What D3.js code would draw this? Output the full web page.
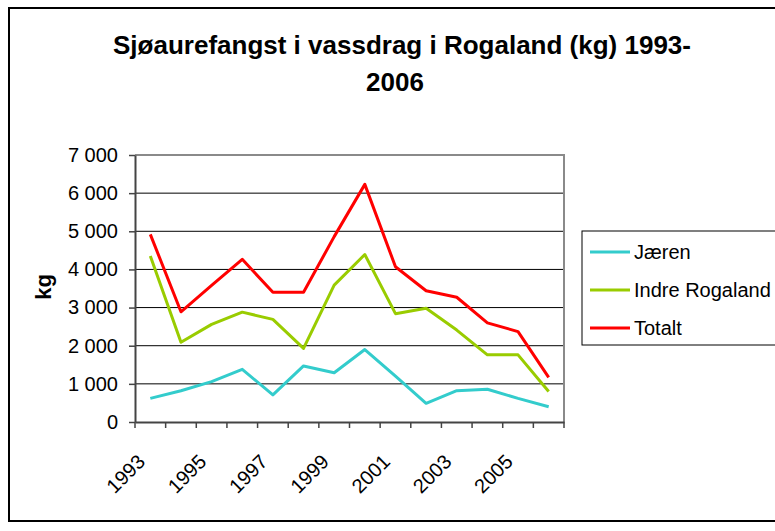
<!DOCTYPE html>
<html>
<head>
<meta charset="utf-8">
<script src="https://cdn.jsdelivr.net/npm/d3@7"></script>
<style>
  html, body { margin: 0; padding: 0; background: #fff; }
  svg { display: block; font-family: "Liberation Sans", Arial, sans-serif; }
</style>
</head>
<body>
<svg id="chart" width="775" height="531"></svg>
<script>
// ---- Data ----
const years = ["1993","1994","1995","1996","1997","1998","1999","2000","2001","2002","2003","2004","2005","2006"];
const jaeren = [620, 820, 1060, 1380, 710, 1470, 1290, 1900, 1200, 490, 820, 860, 620, 400];
const indreRogaland = [4350, 2090, 2560, 2880, 2690, 1930, 3590, 4390, 2840, 2980, 2410, 1760, 1760, 800];
const totalt = [4920, 2890, 3580, 4265, 3400, 3400, 4860, 6230, 4070, 3440, 3270, 2600, 2370, 1170];
const seriesNames = ["Jæren", "Indre Rogaland", "Totalt"];
const seriesColors = ["#33CCCC", "#99CC00", "#FF0000"];
const yTicks = [0, 1000, 2000, 3000, 4000, 5000, 6000, 7000];
const xLabels = ["1993", "1995", "1997", "1999", "2001", "2003", "2005"];
const titleLines = ["Sjøaurefangst i vassdrag i Rogaland (kg) 1993-", "2006"];
const yAxisTitle = "kg";

const seriesValues = [jaeren, indreRogaland, totalt];

// ---- Layout ----
const svg = d3.select("#chart");
const plot = { left: 135, right: 564, top: 155, bottom: 422 };

const locale = d3.formatLocale({ decimal: ",", thousands: " ", grouping: [3], currency: ["", ""] });
const fmt = locale.format(",d");

const x = d3.scaleBand().domain(years).range([plot.left, plot.right]).padding(0);
const y = d3.scaleLinear().domain([0, 7000]).range([plot.bottom, plot.top]);

// outer border
svg.append("rect")
  .attr("x", 9).attr("y", 8).attr("width", 775).attr("height", 513)
  .attr("fill", "#fff").attr("stroke", "#000").attr("stroke-width", 2);

// title
svg.append("text")
  .attr("x", 402).attr("y", 54)
  .attr("text-anchor", "middle")
  .attr("font-size", 26).attr("font-weight", "bold")
  .text(titleLines[0]);
svg.append("text")
  .attr("x", 395).attr("y", 91)
  .attr("text-anchor", "middle")
  .attr("font-size", 26).attr("font-weight", "bold")
  .text(titleLines[1]);

// gridlines
svg.append("g")
  .selectAll("line")
  .data(yTicks.filter(d => d > 0 && d < 7000))
  .join("line")
  .attr("x1", plot.left).attr("x2", plot.right)
  .attr("y1", d => y(d)).attr("y2", d => y(d))
  .attr("stroke", "#000").attr("stroke-width", 1);

// top and right plot border (gray)
svg.append("path")
  .attr("d", `M${plot.left},${y(7000)}H${plot.right}V${plot.bottom}`)
  .attr("fill", "none").attr("stroke", "#8a8a8a").attr("stroke-width", 2);

// y axis
const yAxis = d3.axisLeft(y).tickValues(yTicks).tickSize(6).tickSizeOuter(0).tickFormat(fmt);
const gy = svg.append("g").attr("transform", `translate(${plot.left},0)`).call(yAxis);
gy.select(".domain").attr("stroke", "#444").attr("stroke-width", 2);
gy.selectAll(".tick line").attr("stroke", "#444").attr("stroke-width", 1.5);
gy.selectAll(".tick text")
  .attr("x", -17)
  .attr("font-size", 20)
  .attr("font-family", "Liberation Sans, Arial, sans-serif")
  .attr("fill", "#000");

// x axis: line and category boundary ticks
const xAxis = d3.axisBottom(x).tickValues([]).tickSizeOuter(0);
const gx = svg.append("g").attr("transform", `translate(0,${plot.bottom})`).call(xAxis);
gx.select(".domain").attr("stroke", "#444").attr("stroke-width", 2);
const boundaries = years.map(d => x(d)).concat([x(years[years.length - 1]) + x.bandwidth()]);
svg.append("g").selectAll("line")
  .data(boundaries)
  .join("line")
  .attr("x1", d => d).attr("x2", d => d)
  .attr("y1", plot.bottom).attr("y2", plot.bottom + 6)
  .attr("stroke", "#444").attr("stroke-width", 1.5);

// x tick labels (rotated)
svg.append("g").selectAll("text")
  .data(xLabels)
  .join("text")
  .attr("transform", d => `translate(${x(d) + x.bandwidth() / 2 - 4},${plot.bottom + 41}) rotate(-45)`)
  .attr("text-anchor", "end")
  .attr("font-size", 20)
  .text(d => d);

// y axis title
svg.append("text")
  .attr("transform", `translate(51,287) rotate(-90)`)
  .attr("text-anchor", "middle")
  .attr("font-size", 22).attr("font-weight", "bold")
  .text(yAxisTitle);

// lines
const line = d3.line()
  .x((d, i) => x(years[i]) + x.bandwidth() / 2)
  .y(d => y(d));
svg.append("g").selectAll("path")
  .data(seriesValues)
  .join("path")
  .attr("d", d => line(d))
  .attr("fill", "none")
  .attr("stroke", (d, i) => seriesColors[i])
  .attr("stroke-width", 3)
  .attr("stroke-linejoin", "round");

// legend
const lg = svg.append("g");
lg.append("rect")
  .attr("x", 582).attr("y", 231).attr("width", 210).attr("height", 114)
  .attr("fill", "#fff").attr("stroke", "#000").attr("stroke-width", 1);
const rowsY = [252, 290, 328];
seriesNames.forEach((name, i) => {
  lg.append("line")
    .attr("x1", 590).attr("x2", 630)
    .attr("y1", rowsY[i]).attr("y2", rowsY[i])
    .attr("stroke", seriesColors[i]).attr("stroke-width", 3);
  lg.append("text")
    .attr("x", 634).attr("y", rowsY[i] + 7)
    .attr("font-size", 20)
    .text(name);
});
</script>
</body>
</html>
